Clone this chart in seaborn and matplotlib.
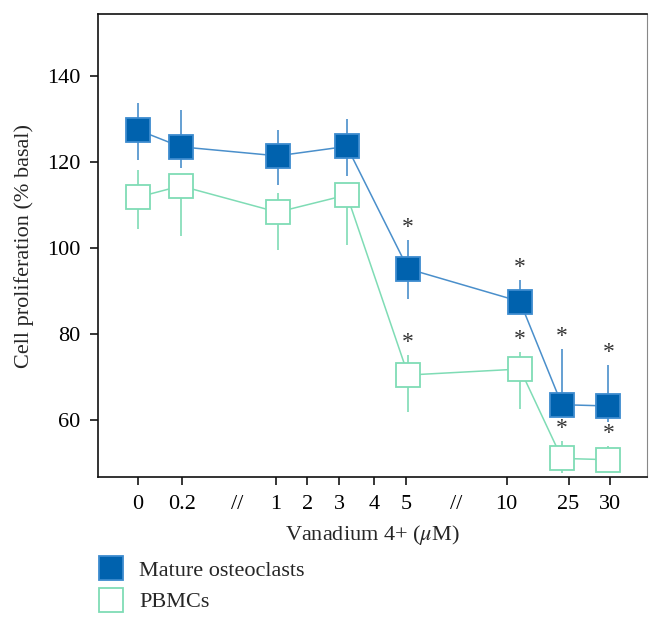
import matplotlib
matplotlib.use("Agg")
import matplotlib.pyplot as plt
from matplotlib.lines import Line2D
import pandas as pd
import seaborn as sns

# broken, uneven concentration axis (uM)
tick_labels = ['0', '0.2', '//', '1', '2', '3', '4', '5', '//', '10', '25', '30']
tick_pos = [0, 1.3, 2.95, 4.1, 5.05, 6.0, 7.05, 8.0, 9.5, 11.0, 12.85, 14.1]

doses = ['0', '0.2', '1', '3', '5', '10', '25', '30']
dose_pos = [0, 1.27, 4.16, 6.23, 8.06, 11.4, 12.65, 14.04]

# mature osteoclasts
oc_mean = [127.4, 123.5, 121.4, 123.6, 95.1, 87.5, 63.5, 63.2]
oc_low = [120.4, 118.5, 114.6, 116.6, 88.1, 85.0, 61.0, 59.4]
oc_high = [133.8, 132.1, 127.4, 130.0, 101.8, 92.5, 76.5, 72.7]
oc_star = [False, False, False, False, True, True, True, True]

# PBMCs
pb_mean = [111.8, 114.4, 108.3, 112.3, 70.4, 71.8, 51.0, 50.7]
pb_low = [104.3, 102.8, 99.5, 100.6, 61.9, 62.5, 47.5, 48.5]
pb_high = [118.0, 116.5, 112.8, 115.0, 75.1, 75.7, 55.1, 53.9]
pb_star = [False, False, False, False, True, True, True, True]

oc = pd.DataFrame({'dose': doses, 'pos': dose_pos, 'mean': oc_mean,
                   'low': oc_low, 'high': oc_high, 'star': oc_star})
pb = pd.DataFrame({'dose': doses, 'pos': dose_pos, 'mean': pb_mean,
                   'low': pb_low, 'high': pb_high, 'star': pb_star})

sns.set_style("ticks")
plt.rcParams['font.family'] = ['Liberation Serif', 'DejaVu Serif']
plt.rcParams['mathtext.fontset'] = 'stix'

fs = 16

fig = plt.figure(figsize=(6.62, 6.26), dpi=100)
ax = fig.add_axes([0.1485, 0.2375, 0.8288, 0.7401])

oc_fill = '#0062ae'
oc_line = '#4a8fcb'
pb_line = '#7fdcb5'

groups = [
    (pb, pb_line, 'white', pb_line, 'PBMCs'),
    (oc, oc_line, oc_fill, '#3d8bcf', 'Mature osteoclasts'),
]
for df, lc, fc, ec, name in groups:
    ax.vlines(df['pos'], df['low'], df['high'], color=lc, lw=1.2, zorder=1)
    sns.lineplot(data=df, x='pos', y='mean', ax=ax, color=lc, lw=1.1,
                 marker='s', markersize=17.5, markerfacecolor=fc,
                 markeredgecolor=ec, markeredgewidth=1.3, zorder=2)
    for _, r in df[df['star']].iterrows():
        ax.annotate('*', (r['pos'], r['high']), xytext=(0, 1.5),
                    textcoords='offset points', ha='center', va='bottom',
                    fontsize=17, color='#333333')

ax.set_xlim(-1.19, 15.19)
ax.set_ylim(46.6, 154.4)
ax.set_yticks([60, 80, 100, 120, 140])
ax.set_xticks(tick_pos, tick_labels)
for t, lab in zip(ax.xaxis.get_major_ticks(), tick_labels):
    if lab == '//':
        t.tick1line.set_visible(False)

ax.tick_params(direction='out', length=6, width=1.1, labelsize=fs,
               pad=7, colors='black')
for s in ['left', 'bottom', 'top']:
    ax.spines[s].set_linewidth(1.2)
    ax.spines[s].set_color('#111111')
ax.spines['right'].set_linewidth(0.8)
ax.spines['right'].set_color('#888888')

ax.set_xlabel(r'Vanadium 4+ ($\mu$M)', fontsize=fs, labelpad=6)
ax.set_ylabel('Cell proliferation (% basal)', fontsize=fs, labelpad=9)

handles = [
    Line2D([], [], ls='none', marker='s', markersize=17.5,
           markerfacecolor=oc_fill, markeredgecolor='#3d8bcf', markeredgewidth=1.3),
    Line2D([], [], ls='none', marker='s', markersize=17.5,
           markerfacecolor='white', markeredgecolor=pb_line, markeredgewidth=1.3),
]
fig.legend(handles, ['Mature osteoclasts', 'PBMCs'], loc='upper left',
           bbox_to_anchor=(0.148, 0.105), frameon=False, fontsize=fs,
           handlelength=1.2, handletextpad=0.65, labelspacing=0.5,
           borderpad=0, borderaxespad=0)

fig.savefig('out.png', dpi=100)
